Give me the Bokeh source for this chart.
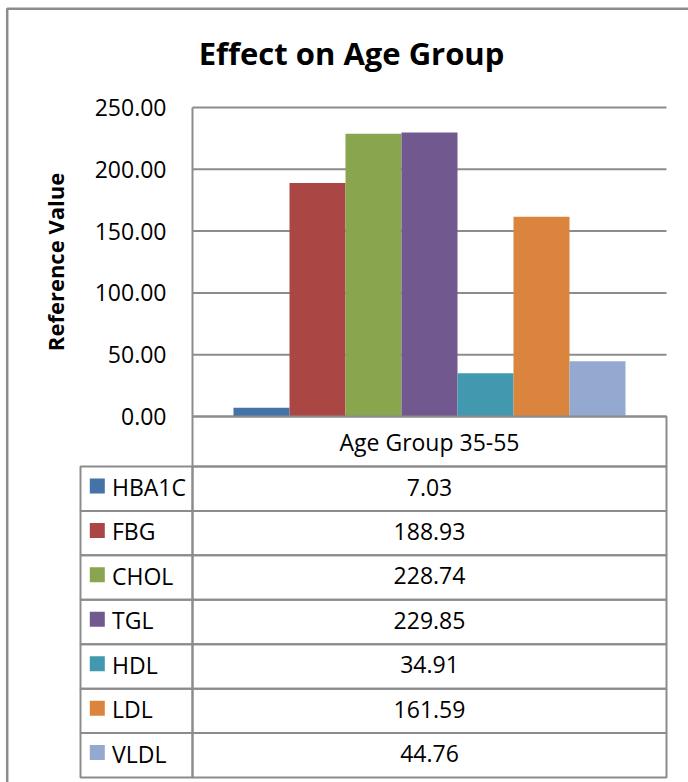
from bokeh.plotting import figure
from bokeh.models import (Range1d, LinearAxis, ColumnDataSource,
                          FixedTicker, PrintfTickFormatter)
from bokeh.core.properties import value
from bokeh.embed import file_html
from bokeh.resources import INLINE

# ---- data ----
title_text = "Effect on Age Group"
axis_title = "Reference Value"
group_label = "Age Group 35-55"
series_names = ["HBA1C", "FBG", "CHOL", "TGL", "HDL", "LDL", "VLDL"]
series_values = [7.03, 188.93, 228.74, 229.85, 34.91, 161.59, 44.76]
series_colors = ["#4572A7", "#AA4643", "#89A54E", "#71588F", "#4198AF", "#DB843D", "#93A9CF"]
y_ticks = [0, 50, 100, 150, 200, 250]

# ---- page geometry (pixels, origin top-left) ----
W, H = 688, 782
FL, FR, FT, FB = 192, 666, 107, 416          # plot area
BAR_PX, GAP_PX = 56, 41
V_MIN, V_MAX = 0, 250
GRID = "#8c8c8c"
FONT = "Open Sans"
N = len(series_names)

# value scale: V_MIN at FB, V_MAX at FT
px_per_val = (FB - FT) / (V_MAX - V_MIN)
val_range = Range1d(start=V_MIN - (H - FB) / px_per_val, end=V_MIN + FB / px_per_val)
# bar slot scale: one unit per bar, GAP_PX of padding inside the plot area
slot0 = -0.5 - GAP_PX / BAR_PX
bar_range = Range1d(start=slot0 - FL / BAR_PX, end=slot0 + (W - FL) / BAR_PX)

p = figure(width=W, height=H, output_backend="svg", toolbar_location=None,
           x_range=Range1d(0, W), y_range=Range1d(H, 0),
           x_axis_type=None, y_axis_type=None,
           min_border=0, min_border_left=0, min_border_right=0,
           min_border_top=0, min_border_bottom=0)
p.extra_y_ranges = {"val": val_range}
p.extra_x_ranges = {"bars": bar_range}
p.outline_line_color = None
p.background_fill_color = "white"
p.border_fill_color = "white"
p.xgrid.visible = False
p.ygrid.visible = False

# ---- outer chart border ----
p.quad(left=[6.7], right=[W + 20], top=[8.3], bottom=[H + 20],
       fill_alpha=0, line_color=GRID, line_width=2.5)

# ---- horizontal gridlines across the plot area ----
p.segment(x0=FL, x1=FR, y0=y_ticks, y1=y_ticks, y_range_name="val",
          line_color=GRID, line_width=2)

# ---- bars ----
src = ColumnDataSource(dict(
    x=list(range(N)),
    top=series_values,
    color=series_colors,
))
p.vbar(x="x", top="top", bottom=0, width=1.0, color="color", source=src,
       line_color=None, x_range_name="bars", y_range_name="val")

# ---- value axis ----
ax = LinearAxis(y_range_name="val", fixed_location=FL, bounds=(V_MIN, V_MAX),
                ticker=FixedTicker(ticks=y_ticks),
                formatter=PrintfTickFormatter(format="%.2f"))
ax.major_tick_line_color = None
ax.major_tick_out = 0
ax.major_tick_in = 0
ax.minor_tick_line_color = None
ax.axis_line_color = GRID
ax.axis_line_width = 2
ax.major_label_standoff = 26
ax.major_label_text_font = FONT
ax.major_label_text_font_size = "23px"
ax.major_label_text_color = "black"
ax.axis_label = axis_title
ax.axis_label_text_font = FONT
ax.axis_label_text_font_style = "bold"
ax.axis_label_text_font_size = "22px"
ax.axis_label_text_color = "black"
ax.axis_label_standoff = 22
p.add_layout(ax, "left")

# ---- title ----
p.text(x=[351], y=[52.5], text=[title_text], text_align="center",
       text_baseline="middle", text_font=value(FONT), text_font_style="bold",
       text_font_size="31px", text_color="black")

# ---- data table ----
LBL_L = 80
HDR_B = 466
TAB_B = 777
row_h = (TAB_B - HDR_B) / N
row_tops = [HDR_B + i * row_h for i in range(N)]
mid_x = (FL + FR) / 2

# header cell
p.quad(left=[FL], right=[FR], top=[FB], bottom=[HDR_B],
       fill_alpha=0, line_color=GRID, line_width=2)
p.text(x=[mid_x], y=[441], text=[group_label], text_align="center",
       text_baseline="middle", text_font=value(FONT),
       text_font_size="23px", text_color="black")

cells = ColumnDataSource(dict(
    top=row_tops,
    bottom=[t + row_h for t in row_tops],
    sq_top=[t + 12 for t in row_tops],
    sq_bottom=[t + 27 for t in row_tops],
    mid=[t + 20.5 for t in row_tops],
    color=series_colors,
    name=series_names,
    val=["%.2f" % v for v in series_values],
))
p.quad(left=LBL_L, right=FL, top="top", bottom="bottom", source=cells,
       fill_alpha=0, line_color=GRID, line_width=2)
p.quad(left=FL, right=FR, top="top", bottom="bottom", source=cells,
       fill_alpha=0, line_color=GRID, line_width=2)
p.quad(left=89.3, right=104.3, top="sq_top", bottom="sq_bottom", source=cells,
       fill_color="color", line_color=None)
p.text(x=111.5, y="mid", text="name", source=cells, text_align="left",
       text_baseline="middle", text_font=value(FONT),
       text_font_size="23px", text_color="black")
p.text(x=mid_x, y="mid", text="val", source=cells, text_align="center",
       text_baseline="middle", text_font=value(FONT),
       text_font_size="23px", text_color="black")

open("out.html", "w").write(file_html(p, INLINE))
